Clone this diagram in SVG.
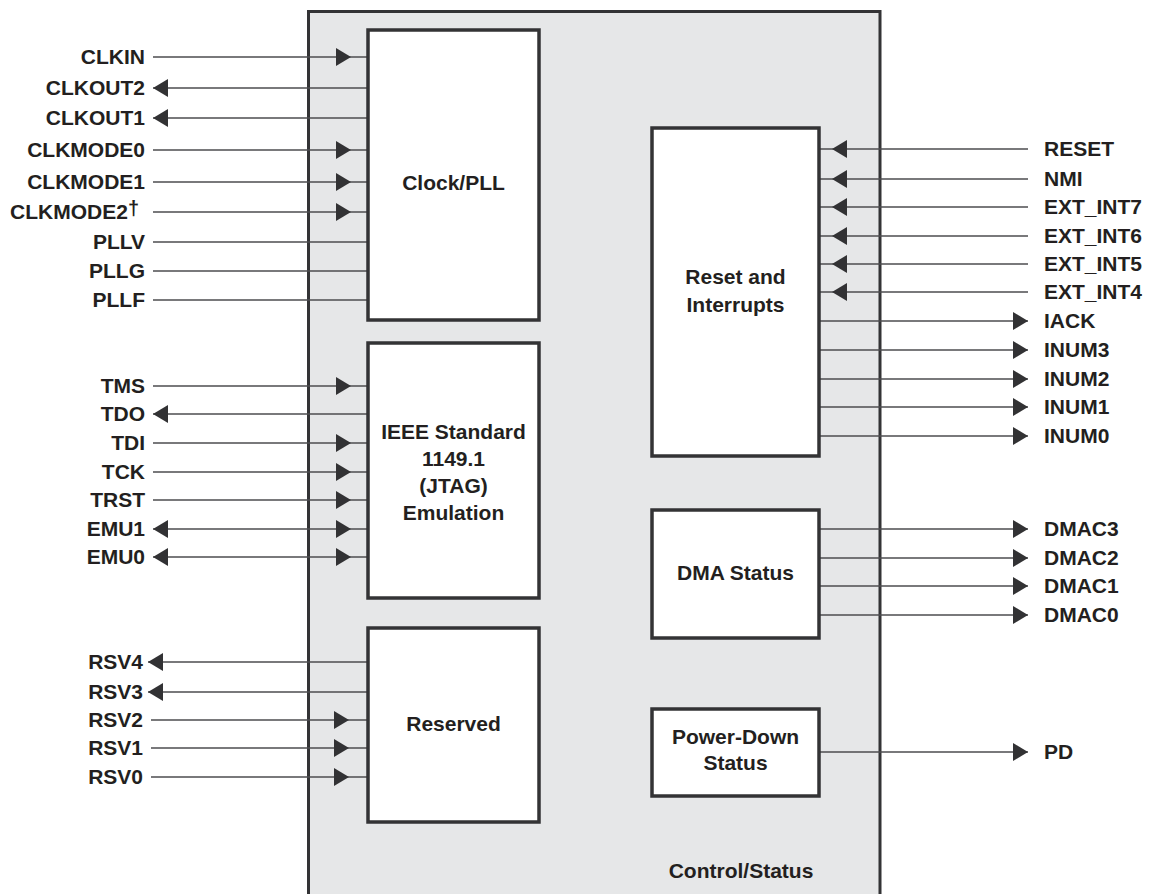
<svg xmlns="http://www.w3.org/2000/svg" width="1157" height="894" viewBox="0 0 1157 894">
<style>
text{font-family:"Liberation Sans",Arial,sans-serif;font-weight:bold;font-size:21px;fill:#231f20}
.l{text-anchor:end}
.r{text-anchor:start}
.c{text-anchor:middle}
.box{fill:#fff;stroke:#333335;stroke-width:3.5}
.w{fill:none;stroke:#4d4d4f;stroke-width:1.4}
.in{marker-mid:url(#ah)}
.out{marker-end:url(#ah)}
.bi{marker-start:url(#ahs);marker-mid:url(#ah)}
</style>
<defs>
<marker id="ah" markerUnits="userSpaceOnUse" markerWidth="16" markerHeight="18" viewBox="0 0 15 18" refX="15" refY="9" orient="auto"><path d="M0,0 L15,9 L0,18 Z" fill="#323234"/></marker>
<marker id="ahs" markerUnits="userSpaceOnUse" markerWidth="16" markerHeight="18" viewBox="0 0 15 18" refX="15" refY="9" orient="auto-start-reverse"><path d="M0,0 L15,9 L0,18 Z" fill="#323234"/></marker>
</defs>
<rect width="1157" height="894" fill="#fff"/>
<g id="control-status">
<rect x="308.5" y="11.5" width="571.5" height="900" fill="#e6e7e8" stroke="#333335" stroke-width="3"/>
<text class="c" x="741" y="878">Control/Status</text>
</g>
<g id="connectors">
<path class="w in" d="M153,57 H351 H368"/>
<path class="w out" d="M368,88 H153"/>
<path class="w out" d="M368,118 H153"/>
<path class="w in" d="M153,150 H351 H368"/>
<path class="w in" d="M153,182 H351 H368"/>
<path class="w in" d="M153,212 H351 H368"/>
<path class="w" d="M153,242 H368"/>
<path class="w" d="M153,271 H368"/>
<path class="w" d="M153,300 H368"/>
<path class="w in" d="M153,386 H351 H368"/>
<path class="w out" d="M368,414 H153"/>
<path class="w in" d="M153,443 H351 H368"/>
<path class="w in" d="M153,472 H351 H368"/>
<path class="w in" d="M153,500 H351 H368"/>
<path class="w bi" d="M153,529 H351 H368"/>
<path class="w bi" d="M153,557 H351 H368"/>
<path class="w out" d="M368,662 H148"/>
<path class="w out" d="M368,692 H148"/>
<path class="w in" d="M151,720 H349 H368"/>
<path class="w in" d="M151,748 H349 H368"/>
<path class="w in" d="M151,777 H349 H368"/>
<path class="w in" d="M1028,149 H832 H820"/>
<path class="w in" d="M1028,179 H832 H820"/>
<path class="w in" d="M1028,207 H832 H820"/>
<path class="w in" d="M1028,236 H832 H820"/>
<path class="w in" d="M1028,264 H832 H820"/>
<path class="w in" d="M1028,292 H832 H820"/>
<path class="w out" d="M820,321 H1028"/>
<path class="w out" d="M820,350 H1028"/>
<path class="w out" d="M820,379 H1028"/>
<path class="w out" d="M820,407 H1028"/>
<path class="w out" d="M820,436 H1028"/>
<path class="w out" d="M820,529 H1028"/>
<path class="w out" d="M820,558 H1028"/>
<path class="w out" d="M820,586 H1028"/>
<path class="w out" d="M820,615 H1028"/>
<path class="w out" d="M820,752 H1028"/>
</g>
<g id="clock-pll">
<rect class="box" x="368" y="30" width="171" height="290"/>
<text class="c" x="453.5" y="190">Clock/PLL</text>
</g>
<g id="jtag">
<rect class="box" x="368" y="343" width="171" height="255"/>
<text class="c" x="453.5" y="439">IEEE Standard</text>
<text class="c" x="453.5" y="466">1149.1</text>
<text class="c" x="453.5" y="493">(JTAG)</text>
<text class="c" x="453.5" y="520">Emulation</text>
</g>
<g id="reserved">
<rect class="box" x="368" y="628" width="171" height="194"/>
<text class="c" x="453.5" y="731">Reserved</text>
</g>
<g id="reset-interrupts">
<rect class="box" x="652" y="128" width="167" height="328"/>
<text class="c" x="735.5" y="284">Reset and</text>
<text class="c" x="735.5" y="312">Interrupts</text>
</g>
<g id="dma-status">
<rect class="box" x="652" y="510" width="167" height="128"/>
<text class="c" x="735.5" y="580">DMA Status</text>
</g>
<g id="power-down-status">
<rect class="box" x="652" y="709" width="167" height="87"/>
<text class="c" x="735.5" y="744">Power-Down</text>
<text class="c" x="735.5" y="770">Status</text>
</g>
<g id="left-labels">
<text class="l" x="145" y="64">CLKIN</text>
<text class="l" x="145" y="95">CLKOUT2</text>
<text class="l" x="145" y="125">CLKOUT1</text>
<text class="l" x="145" y="157">CLKMODE0</text>
<text class="l" x="145" y="189">CLKMODE1</text>
<text class="l" x="139" y="219">CLKMODE2<tspan font-size="20" dy="-4">†</tspan></text>
<text class="l" x="145" y="249">PLLV</text>
<text class="l" x="145" y="278">PLLG</text>
<text class="l" x="145" y="307">PLLF</text>
<text class="l" x="145" y="393">TMS</text>
<text class="l" x="145" y="421">TDO</text>
<text class="l" x="145" y="450">TDI</text>
<text class="l" x="145" y="479">TCK</text>
<text class="l" x="145" y="507">TRST</text>
<text class="l" x="145" y="536">EMU1</text>
<text class="l" x="145" y="564">EMU0</text>
<text class="l" x="143" y="669">RSV4</text>
<text class="l" x="143" y="699">RSV3</text>
<text class="l" x="143" y="727">RSV2</text>
<text class="l" x="143" y="755">RSV1</text>
<text class="l" x="143" y="784">RSV0</text>
</g>
<g id="right-labels">
<text class="r" x="1044" y="156">RESET</text>
<text class="r" x="1044" y="186">NMI</text>
<text class="r" x="1044" y="214">EXT_INT7</text>
<text class="r" x="1044" y="243">EXT_INT6</text>
<text class="r" x="1044" y="271">EXT_INT5</text>
<text class="r" x="1044" y="299">EXT_INT4</text>
<text class="r" x="1044" y="328">IACK</text>
<text class="r" x="1044" y="357">INUM3</text>
<text class="r" x="1044" y="386">INUM2</text>
<text class="r" x="1044" y="414">INUM1</text>
<text class="r" x="1044" y="443">INUM0</text>
<text class="r" x="1044" y="536">DMAC3</text>
<text class="r" x="1044" y="565">DMAC2</text>
<text class="r" x="1044" y="593">DMAC1</text>
<text class="r" x="1044" y="622">DMAC0</text>
<text class="r" x="1044" y="759">PD</text>
</g>
</svg>
